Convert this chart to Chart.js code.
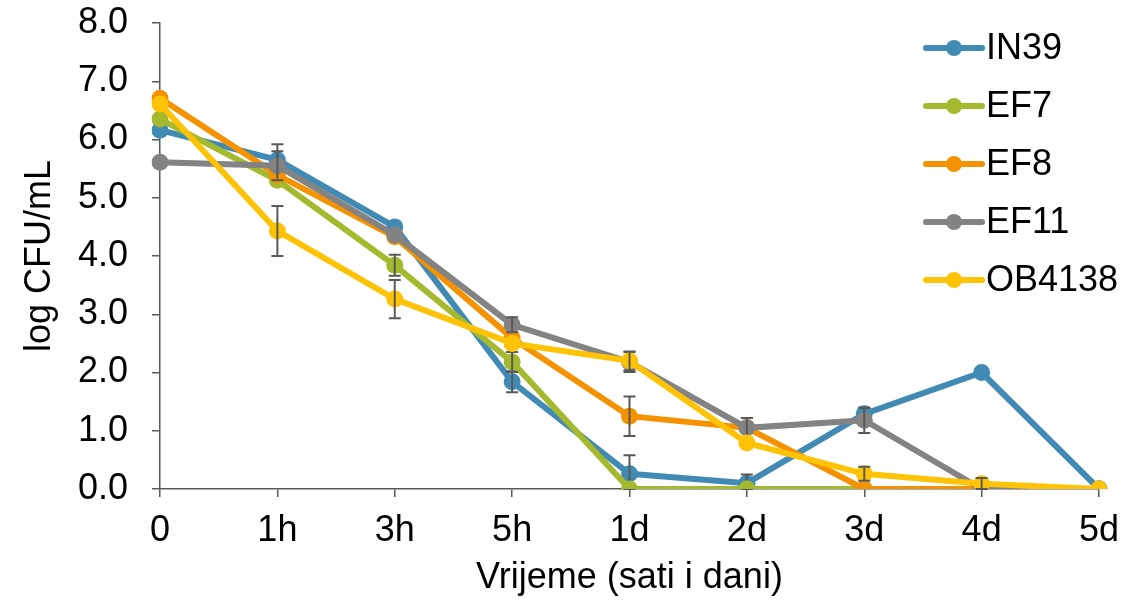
<!DOCTYPE html>
<html>
<head>
<meta charset="utf-8">
<script src="https://cdn.jsdelivr.net/npm/chart.js@4/dist/chart.umd.min.js"></script>
<style>
html,body{margin:0;padding:0;background:#fff;}
#wrap{width:1144px;height:606px;}
</style>
</head>
<body>
<div id="wrap"><canvas id="c" width="1144" height="606"></canvas></div>
<script>
const categories = ['0', '1h', '3h', '5h', '1d', '2d', '3d', '4d', '5d'];
const seriesNames = ['IN39', 'EF7', 'EF8', 'EF11', 'OB4138'];
const IN39   = [6.16, 5.65, 4.50, 1.84, 0.26, 0.10, 1.29, 2.00, 0.00];
const EF7    = [6.35, 5.30, 3.84, 2.18, 0.00, 0.00, 0.00, 0.00, 0.00];
const EF8    = [6.71, 5.39, 4.33, 2.59, 1.25, 1.05, 0.00, 0.00, 0.00];
const EF11   = [5.61, 5.55, 4.36, 2.82, 2.18, 1.05, 1.18, 0.00, 0.00];
const OB4138 = [6.61, 4.43, 3.26, 2.50, 2.20, 0.79, 0.26, 0.09, 0.00];
const errIN39   = [0, 0.27, 0, 0.18, 0.32, 0.15, 0.10, 0, 0];
const errEF7    = [0, 0, 0.18, 0.17, 0, 0, 0, 0, 0];
const errEF8    = [0, 0, 0, 0, 0.34, 0.17, 0, 0, 0];
const errEF11   = [0, 0.25, 0, 0.13, 0.17, 0.17, 0.22, 0, 0];
const errOB4138 = [0, 0.43, 0.33, 0, 0.16, 0, 0.12, 0.10, 0];
const yTicks = [0, 1, 2, 3, 4, 5, 6, 7, 8];

const seriesValues = [IN39, EF7, EF8, EF11, OB4138];
const seriesErrors = [errIN39, errEF7, errEF8, errEF11, errOB4138];
const colors = ['#418AB3', '#A5B92E', '#F59201', '#838383', '#FEC306'];

const FONT = "'Liberation Sans', Arial, sans-serif";
const TICK_SIZE = 36;
const LEG_SIZE = 36;

const errorBars = {
  id: 'errorBars',
  afterDatasetDraw(chart, args) {
    const i = args.index;
    const errs = seriesErrors[i];
    const y = chart.scales.y;
    const ctx = chart.ctx;
    ctx.save();
    ctx.strokeStyle = '#595959';
    ctx.lineWidth = 2;
    args.meta.data.forEach((pt, j) => {
      const e = errs[j];
      if (!e) return;
      const v = seriesValues[i][j];
      const x = pt.x;
      const yt = y.getPixelForValue(v + e);
      const yb = y.getPixelForValue(Math.max(0, v - e));
      ctx.beginPath();
      ctx.moveTo(x, yt); ctx.lineTo(x, yb);
      ctx.moveTo(x - 6, yt); ctx.lineTo(x + 6, yt);
      ctx.moveTo(x - 6, yb); ctx.lineTo(x + 6, yb);
      ctx.stroke();
    });
    ctx.restore();
  }
};

const sideLegend = {
  id: 'sideLegend',
  afterDraw(chart) {
    const ctx = chart.ctx;
    ctx.save();
    const x0 = 926, x1 = 982, tx = 986, y0 = 48, dy = 58;
    chart.data.datasets.forEach((ds, i) => {
      const yy = y0 + i * dy;
      ctx.strokeStyle = ds.borderColor;
      ctx.lineWidth = 6;
      ctx.lineCap = 'round';
      ctx.beginPath(); ctx.moveTo(x0, yy); ctx.lineTo(x1, yy); ctx.stroke();
      ctx.fillStyle = ds.borderColor;
      ctx.beginPath(); ctx.arc((x0 + x1) / 2, yy, 8, 0, Math.PI * 2); ctx.fill();
      ctx.fillStyle = '#000';
      ctx.font = LEG_SIZE + 'px ' + FONT;
      ctx.textBaseline = 'middle';
      ctx.textAlign = 'left';
      ctx.fillText(ds.label, tx, yy + 1);
    });
    ctx.restore();
  }
};

const datasets = seriesNames.map((name, i) => ({
  label: name,
  data: seriesValues[i],
  borderColor: colors[i],
  backgroundColor: colors[i],
  pointBackgroundColor: colors[i],
  pointBorderColor: colors[i],
  borderWidth: 6,
  pointRadius: 8.5,
  pointHoverRadius: 8.5,
  pointBorderWidth: 0,
  tension: 0,
  order: seriesNames.length - i
}));

new Chart(document.getElementById('c'), {
  type: 'line',
  data: { labels: categories, datasets },
  options: {
    responsive: false,
    animation: false,
    devicePixelRatio: 1,
    layout: { padding: { left: 0, right: 45, top: 23, bottom: 0 } },
    plugins: { legend: { display: false }, tooltip: { enabled: false } },
    scales: {
      x: {
        type: 'category',
        offset: false,
        grid: { display: true, drawOnChartArea: false, drawTicks: true, tickLength: 8, color: '#595959', lineWidth: 1.5 },
        border: { display: true, color: '#595959', width: 1.5 },
        ticks: { font: { family: FONT, size: TICK_SIZE }, color: '#000', padding: 12, maxRotation: 0, autoSkip: false },
        title: { display: true, text: 'Vrijeme (sati i dani)', font: { family: FONT, size: TICK_SIZE }, color: '#000', padding: { top: 0, bottom: 6 } },
        afterFit(s) { s.height = 117; }
      },
      y: {
        min: 0, max: 8,
        afterBuildTicks(s) { s.ticks = yTicks.map(v => ({ value: v })); },
        grid: { display: true, drawOnChartArea: false, drawTicks: true, tickLength: 8, color: '#595959', lineWidth: 1.5 },
        border: { display: true, color: '#595959', width: 1.5 },
        ticks: { font: { family: FONT, size: TICK_SIZE }, color: '#000', padding: 24, callback: (v) => Number(v).toFixed(1) },
        title: { display: true, text: 'log CFU/mL', font: { family: FONT, size: TICK_SIZE }, color: '#000', padding: { top: 18, bottom: 0 } },
        afterFit(s) { s.width = 160; s.paddingTop = 0; s.paddingBottom = 0; }
      }
    }
  },
  plugins: [errorBars, sideLegend]
});
</script>
</body>
</html>
